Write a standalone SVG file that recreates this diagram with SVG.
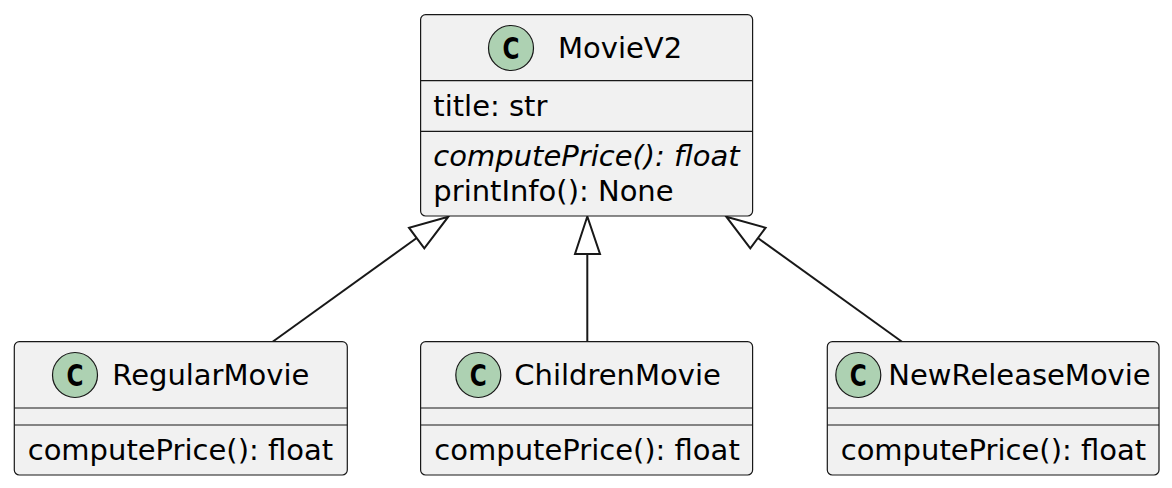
<svg xmlns="http://www.w3.org/2000/svg" width="1172" height="488" viewBox="0 0 1172 488">
<style>
.box{fill:#F1F1F1;stroke:#181818;stroke-width:1.2}
.sep{stroke:#181818;stroke-width:1.2}
.circ{fill:#ADD1B2;stroke:#181818;stroke-width:1.2}
.cl{font-family:"DejaVu Sans Bold","DejaVu Sans",sans-serif;font-weight:bold;font-size:31px;fill:#000}
.t{font-family:"DejaVu Sans",sans-serif;font-size:29px;fill:#000}
.it{font-style:italic}
.edge{stroke:#181818;stroke-width:2;fill:none}
.head{fill:#FFFFFF;stroke:#181818;stroke-width:2}
</style>
<rect width="1172" height="488" fill="#FFFFFF"/>
<g id="connectors">
<line class="edge" x1="272.3" y1="342" x2="416.7" y2="238"/>
<polygon class="head" points="448.3,216.7 409,227.7 424.3,248.3"/>
<line class="edge" x1="587.3" y1="342" x2="587.3" y2="254"/>
<polygon class="head" points="587.3,216.5 575,254 600,254"/>
<line class="edge" x1="902.3" y1="342" x2="757.9" y2="238"/>
<polygon class="head" points="726.3,216.7 765.6,227.7 750.3,248.3"/>
</g>
<g id="MovieV2">
<rect class="box" x="420.6" y="14.6" width="332" height="201.4" rx="5"/>
<circle class="circ" cx="511" cy="48" r="22.5"/>
<text class="cl" x="511" y="59" text-anchor="middle" textLength="17" lengthAdjust="spacingAndGlyphs">C</text>
<text class="t" x="558" y="58">MovieV2</text>
<line class="sep" x1="420.6" y1="80.7" x2="752.6" y2="80.7"/>
<text class="t" x="433.3" y="116">title: str</text>
<line class="sep" x1="420.6" y1="131.3" x2="752.6" y2="131.3"/>
<text class="t it" x="433.3" y="166">computePrice(): float</text>
<text class="t" x="433.3" y="201">printInfo(): None</text>
</g>
<g id="RegularMovie">
<rect class="box" x="14.3" y="341.7" width="333" height="133.3" rx="5"/>
<circle class="circ" cx="75" cy="375" r="22.5"/>
<text class="cl" x="75" y="386" text-anchor="middle" textLength="17" lengthAdjust="spacingAndGlyphs">C</text>
<text class="t" x="112.3" y="385">RegularMovie</text>
<line class="sep" x1="14.3" y1="408" x2="347.3" y2="408"/>
<line class="sep" x1="14.3" y1="425" x2="347.3" y2="425"/>
<text class="t" x="27.7" y="460">computePrice(): float</text>
</g>
<g id="ChildrenMovie">
<rect class="box" x="420.6" y="341.7" width="332" height="133.3" rx="5"/>
<circle class="circ" cx="478.3" cy="375" r="22.5"/>
<text class="cl" x="478.3" y="386" text-anchor="middle" textLength="17" lengthAdjust="spacingAndGlyphs">C</text>
<text class="t" x="514.3" y="385">ChildrenMovie</text>
<line class="sep" x1="420.6" y1="408" x2="752.6" y2="408"/>
<line class="sep" x1="420.6" y1="425" x2="752.6" y2="425"/>
<text class="t" x="434.3" y="460">computePrice(): float</text>
</g>
<g id="NewReleaseMovie">
<rect class="box" x="827.3" y="341.7" width="331.7" height="133.3" rx="5"/>
<circle class="circ" cx="858.3" cy="375" r="22.5"/>
<text class="cl" x="858.3" y="386" text-anchor="middle" textLength="17" lengthAdjust="spacingAndGlyphs">C</text>
<text class="t" x="888.3" y="385">NewReleaseMovie</text>
<line class="sep" x1="827.3" y1="408" x2="1159" y2="408"/>
<line class="sep" x1="827.3" y1="425" x2="1159" y2="425"/>
<text class="t" x="840.7" y="460">computePrice(): float</text>
</g>
</svg>
